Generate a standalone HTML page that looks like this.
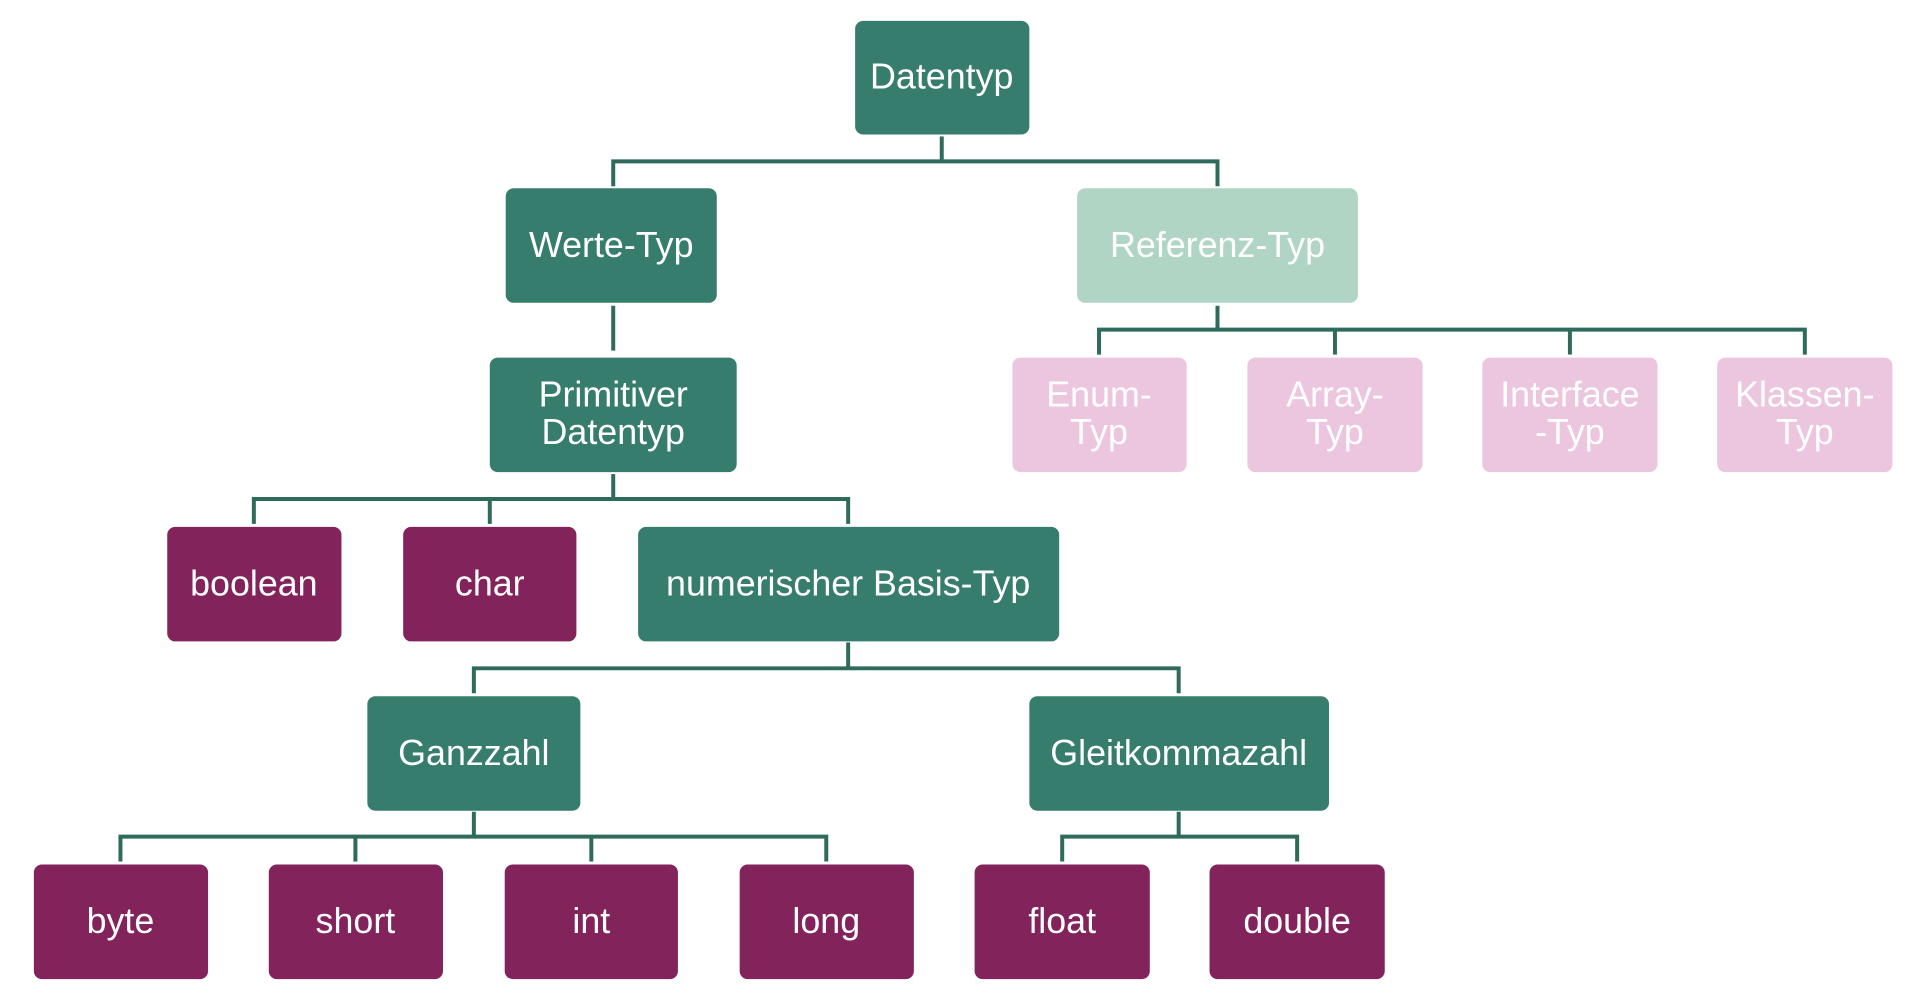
<!DOCTYPE html>
<html><head><meta charset="utf-8"><style>
html,body{margin:0;padding:0;background:#fff;}
svg{display:block;}
text{font-family:"Liberation Sans",sans-serif;font-size:36px;fill:#fff;text-anchor:middle;}
</style></head><body>
<svg width="1918" height="996" viewBox="0 0 1918 996" xmlns="http://www.w3.org/2000/svg">
<g transform="scale(0.9955,0.996)">
<g fill="none" stroke="#2e6b5a" stroke-width="4">
<polyline points="616,187 616,162 1223,162 1223,187"/>
<line x1="946" y1="137" x2="946" y2="162"/>
<line x1="616" y1="307" x2="616" y2="352"/>
<polyline points="1104,356 1104,331 1813,331 1813,356"/>
<line x1="1223" y1="307" x2="1223" y2="331"/>
<line x1="1341" y1="331" x2="1341" y2="356"/>
<line x1="1577" y1="331" x2="1577" y2="356"/>
<polyline points="255,526 255,501 852,501 852,526"/>
<line x1="616" y1="476" x2="616" y2="501"/>
<line x1="492" y1="501" x2="492" y2="526"/>
<polyline points="476,696 476,671 1184,671 1184,696"/>
<line x1="852" y1="645" x2="852" y2="671"/>
<polyline points="121,865 121,840 830,840 830,865"/>
<line x1="476" y1="815" x2="476" y2="840"/>
<line x1="357" y1="840" x2="357" y2="865"/>
<line x1="594" y1="840" x2="594" y2="865"/>
<polyline points="1067,865 1067,840 1303,840 1303,865"/>
<line x1="1184" y1="815" x2="1184" y2="840"/>
</g>
<g>
<rect x="859" y="21" width="175" height="114" rx="8" fill="#367d6d"/>
<text x="946" y="89">Datentyp</text>
<rect x="508" y="189" width="212" height="115" rx="8" fill="#367d6d"/>
<text x="614" y="258">Werte-Typ</text>
<rect x="1082" y="189" width="282" height="115" rx="8" fill="#b0d5c5"/>
<text x="1223" y="258">Referenz-Typ</text>
<rect x="492" y="359" width="248" height="115" rx="8" fill="#367d6d"/>
<text x="616" y="408">Primitiver</text><text x="616" y="446">Datentyp</text>
<rect x="1017" y="359" width="175" height="115" rx="8" fill="#ecc6df"/>
<text x="1104" y="408">Enum-</text><text x="1104" y="446">Typ</text>
<rect x="1253" y="359" width="176" height="115" rx="8" fill="#ecc6df"/>
<text x="1341" y="408">Array-</text><text x="1341" y="446">Typ</text>
<rect x="1489" y="359" width="176" height="115" rx="8" fill="#ecc6df"/>
<text x="1577" y="408">Interface</text><text x="1577" y="446">-Typ</text>
<rect x="1725" y="359" width="176" height="115" rx="8" fill="#ecc6df"/>
<text x="1813" y="408">Klassen-</text><text x="1813" y="446">Typ</text>
<rect x="168" y="529" width="175" height="115" rx="8" fill="#82235c"/>
<text x="255" y="598">boolean</text>
<rect x="405" y="529" width="174" height="115" rx="8" fill="#82235c"/>
<text x="492" y="598">char</text>
<rect x="641" y="529" width="423" height="115" rx="8" fill="#367d6d"/>
<text x="852" y="598">numerischer Basis-Typ</text>
<rect x="369" y="699" width="214" height="115" rx="8" fill="#367d6d"/>
<text x="476" y="768">Ganzzahl</text>
<rect x="1034" y="699" width="301" height="115" rx="8" fill="#367d6d"/>
<text x="1184" y="768">Gleitkommazahl</text>
<rect x="34" y="868" width="175" height="115" rx="8" fill="#82235c"/>
<text x="121" y="937">byte</text>
<rect x="270" y="868" width="175" height="115" rx="8" fill="#82235c"/>
<text x="357" y="937">short</text>
<rect x="507" y="868" width="174" height="115" rx="8" fill="#82235c"/>
<text x="594" y="937">int</text>
<rect x="743" y="868" width="175" height="115" rx="8" fill="#82235c"/>
<text x="830" y="937">long</text>
<rect x="979" y="868" width="176" height="115" rx="8" fill="#82235c"/>
<text x="1067" y="937">float</text>
<rect x="1215" y="868" width="176" height="115" rx="8" fill="#82235c"/>
<text x="1303" y="937">double</text>
</g>
</g>
</svg>
</body></html>
